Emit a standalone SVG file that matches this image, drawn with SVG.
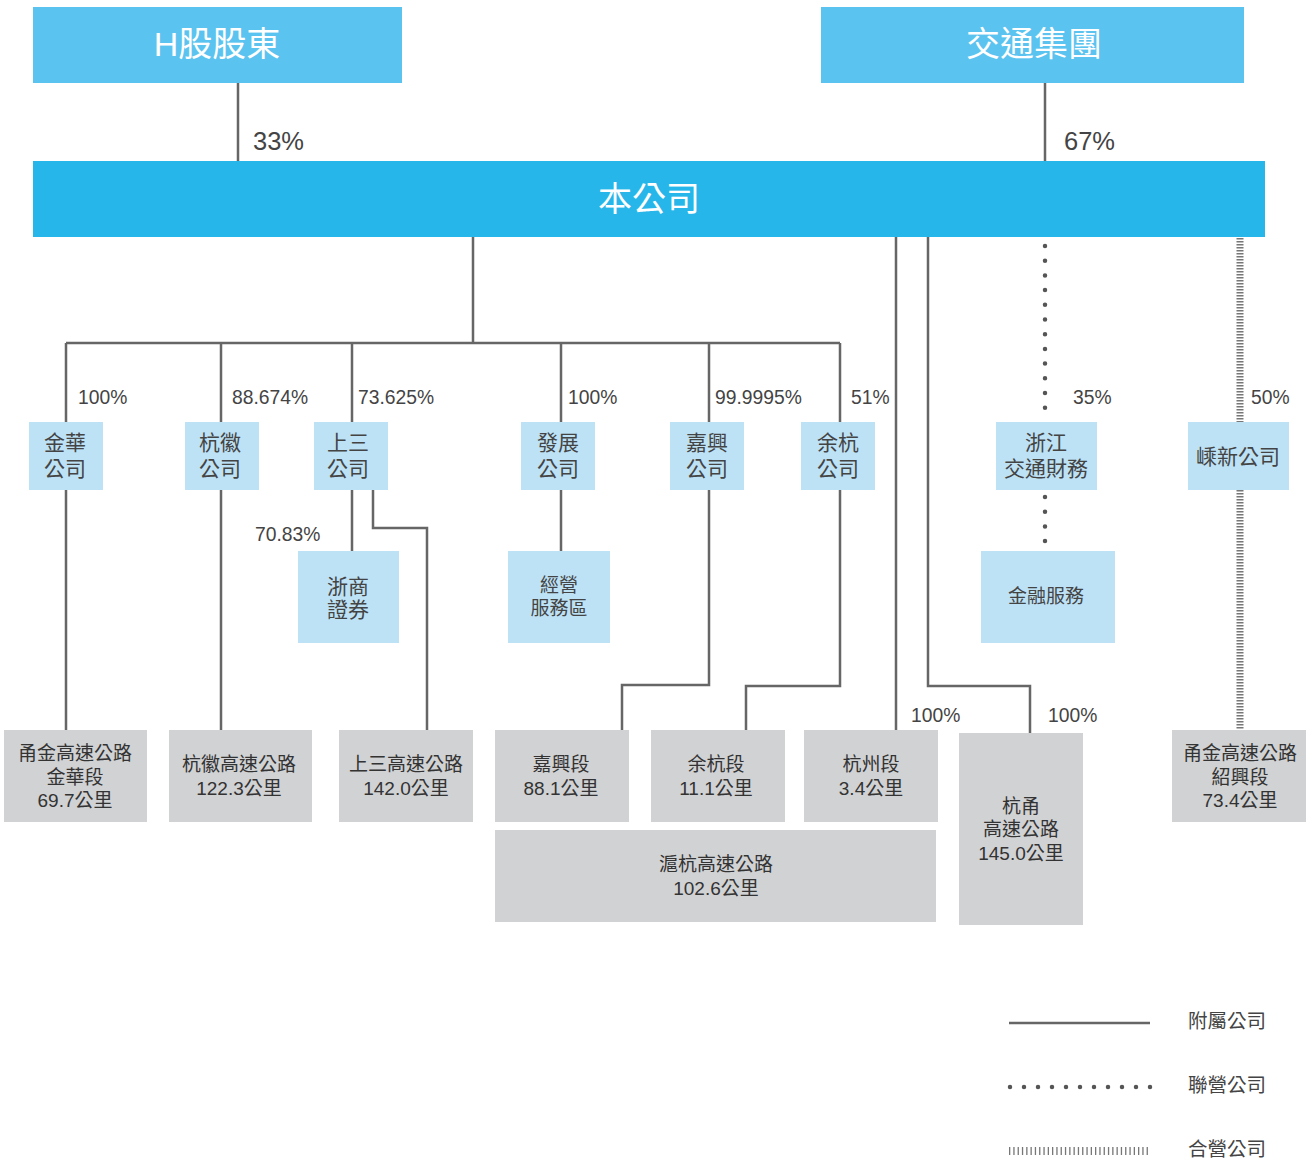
<svg xmlns="http://www.w3.org/2000/svg" width="1311" height="1163" viewBox="0 0 1311 1163">
<style>
text{font-family:"Liberation Sans","Noto Sans CJK TC",sans-serif;}
.top{fill:#5BC3F0;}
.main{fill:#27B6E9;}
.lb{fill:#BDE2F6;}
.gr{fill:#D1D2D4;}
.wt{fill:#fff;font-size:34px;text-anchor:middle;}
.pc{fill:#444;font-size:19.3px;}
.pb{fill:#444;font-size:25.5px;}
.t20{fill:#444;font-size:21px;text-anchor:middle;}
.t18{fill:#333;font-size:19px;text-anchor:middle;}
.sl{fill:none;stroke:#666;stroke-width:2.5;}
.dl{fill:none;stroke:#555;stroke-width:4.5;stroke-linecap:round;stroke-dasharray:0 14.7;}
.hl{fill:none;stroke:#777;stroke-width:7;stroke-dasharray:1.5 1.5;}
.hv{fill:none;stroke:#777;stroke-width:8;stroke-dasharray:1.3 3;}
</style>
<g id="connectors">
<path class="sl" d="M238 83V161M1045 83V161"/>
<path class="sl" d="M473 237V343M66 343H840M66 343V422M221 343V422M352 343V422M561 343V422M709 343V422M840 343V422"/>
<path class="sl" d="M66 490V730M221 490V730M352 490V551M373 490V528H427V730M561 490V551"/>
<path class="sl" d="M709 490V685H622V730M840 490V686H746V730M896 237V730M928 237V686H1030V733"/>
<path class="dl" d="M1045 246V422M1045 497V545"/>
<path class="hl" d="M1240 238V422M1240 490V730"/>
</g>
<g id="n-h"><rect class="top" x="33" y="7" width="369" height="76"/><text class="wt" x="217" y="56">H股股東</text></g>
<g id="n-jt"><rect class="top" x="821" y="7" width="423" height="76"/><text class="wt" x="1034" y="56">交通集團</text></g>
<g id="labels-top"><text class="pb" x="253" y="150">33%</text><text class="pb" x="1064" y="150">67%</text></g>
<g id="n-main"><rect class="main" x="33" y="161" width="1232" height="76"/><text class="wt" x="649" y="211">本公司</text></g>
<g id="labels-pct">
<text class="pc" x="78" y="404">100%</text>
<text class="pc" x="232" y="404">88.674%</text>
<text class="pc" x="358" y="404">73.625%</text>
<text class="pc" x="568" y="404">100%</text>
<text class="pc" x="715" y="404">99.9995%</text>
<text class="pc" x="851" y="404">51%</text>
<text class="pc" x="1073" y="404">35%</text>
<text class="pc" x="1251" y="404">50%</text>
<text class="pc" x="255" y="541">70.83%</text>
<text class="pc" x="911" y="722">100%</text>
<text class="pc" x="1048" y="722">100%</text>
</g>
<g id="n-jinhua"><rect class="lb" x="29" y="422" width="74" height="68"/><text class="t20" x="65" y="450">金華</text><text class="t20" x="65" y="476">公司</text></g>
<g id="n-hanghui"><rect class="lb" x="185" y="422" width="74" height="68"/><text class="t20" x="220" y="450">杭徽</text><text class="t20" x="220" y="476">公司</text></g>
<g id="n-shangsan"><rect class="lb" x="314" y="422" width="74" height="68"/><text class="t20" x="348" y="450">上三</text><text class="t20" x="348" y="476">公司</text></g>
<g id="n-fazhan"><rect class="lb" x="521" y="422" width="74" height="68"/><text class="t20" x="558" y="450">發展</text><text class="t20" x="558" y="476">公司</text></g>
<g id="n-jiaxing"><rect class="lb" x="670" y="422" width="74" height="68"/><text class="t20" x="707" y="450">嘉興</text><text class="t20" x="707" y="476">公司</text></g>
<g id="n-yuhang"><rect class="lb" x="801" y="422" width="74" height="68"/><text class="t20" x="838" y="450">余杭</text><text class="t20" x="838" y="476">公司</text></g>
<g id="n-caiwu"><rect class="lb" x="996" y="422" width="101" height="68"/><text class="t20" x="1046" y="450">浙江</text><text class="t20" x="1046" y="476">交通財務</text></g>
<g id="n-shengxin"><rect class="lb" x="1188" y="422" width="101" height="68"/><text class="t20" x="1238" y="464">嵊新公司</text></g>
<g id="n-zheshang"><rect class="lb" x="298" y="551" width="101" height="92"/><text class="t20" x="348" y="594">浙商</text><text class="t20" x="348" y="617">證券</text></g>
<g id="n-fuwuqu"><rect class="lb" x="508" y="551" width="102" height="92"/><text class="t18" x="559" y="592" style="fill:#444">經營</text><text class="t18" x="559" y="615" style="fill:#444">服務區</text></g>
<g id="n-jinrong"><rect class="lb" x="981" y="551" width="134" height="92"/><text class="t18" x="1046" y="603" style="fill:#444">金融服務</text></g>
<g id="n-r1"><rect class="gr" x="4" y="730" width="143" height="92"/><text class="t18" x="75" y="760">甬金高速公路</text><text class="t18" x="75" y="784">金華段</text><text class="t18" x="75" y="807">69.7公里</text></g>
<g id="n-r2"><rect class="gr" x="169" y="730" width="143" height="92"/><text class="t18" x="239" y="771">杭徽高速公路</text><text class="t18" x="239" y="795">122.3公里</text></g>
<g id="n-r3"><rect class="gr" x="339" y="730" width="134" height="92"/><text class="t18" x="406" y="771">上三高速公路</text><text class="t18" x="406" y="795">142.0公里</text></g>
<g id="n-r4"><rect class="gr" x="495" y="730" width="134" height="92"/><text class="t18" x="561" y="771">嘉興段</text><text class="t18" x="561" y="795">88.1公里</text></g>
<g id="n-r5"><rect class="gr" x="651" y="730" width="134" height="92"/><text class="t18" x="716" y="771">余杭段</text><text class="t18" x="716" y="795">11.1公里</text></g>
<g id="n-r6"><rect class="gr" x="804" y="730" width="134" height="92"/><text class="t18" x="871" y="771">杭州段</text><text class="t18" x="871" y="795">3.4公里</text></g>
<g id="n-r7"><rect class="gr" x="495" y="830" width="441" height="92"/><text class="t18" x="716" y="871">滬杭高速公路</text><text class="t18" x="716" y="895">102.6公里</text></g>
<g id="n-r8"><rect class="gr" x="959" y="733" width="124" height="192"/><text class="t18" x="1021" y="813">杭甬</text><text class="t18" x="1021" y="836">高速公路</text><text class="t18" x="1021" y="860">145.0公里</text></g>
<g id="n-r9"><rect class="gr" x="1172" y="730" width="134" height="92"/><text class="t18" x="1240" y="760">甬金高速公路</text><text class="t18" x="1240" y="784">紹興段</text><text class="t18" x="1240" y="807">73.4公里</text></g>
<g id="legend">
<path class="sl" d="M1009 1023H1150"/>
<path class="dl" d="M1010 1087H1152" style="stroke-dasharray:0 14"/>
<path class="hv" d="M1009 1151H1150"/>
<text class="pc" x="1188" y="1028" style="font-size:19.5px">附屬公司</text>
<text class="pc" x="1188" y="1092" style="font-size:19.5px">聯營公司</text>
<text class="pc" x="1188" y="1156" style="font-size:19.5px">合營公司</text>
</g>
</svg>
